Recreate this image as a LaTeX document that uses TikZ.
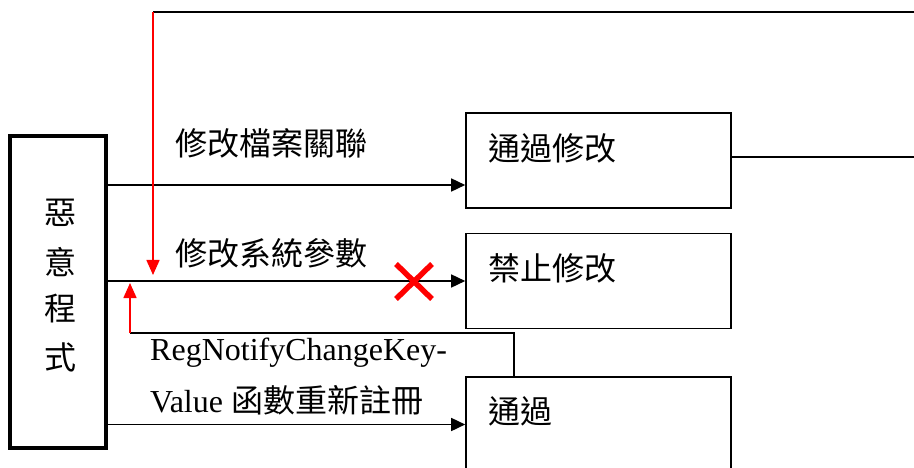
\documentclass[tikz,border=0pt]{standalone}
\usepackage{fontspec}
\setmainfont{Liberation Serif}
\newfontfamily\cjk{Noto Sans CJK TC}
\usetikzlibrary{arrows.meta}
\begin{document}
\begin{tikzpicture}[x=1pt,y=-1pt,
  ln/.style={line width=1.6pt,black},
  arr/.style={ln,-{Triangle[length=14pt,width=13pt]}},
  redarr/.style={line width=1.6pt,red,-{Triangle[length=15pt,width=13pt]}},
  boxn/.style={draw,line width=1.6pt,minimum width=265pt,minimum height=95pt,inner sep=0pt},
  txt/.style={anchor=west,inner sep=0pt,font=\fontsize{32}{38}\selectfont},
  ctxt/.style={txt,font=\fontsize{32}{38}\selectfont\cjk},
  vch/.style={inner sep=0pt,font=\fontsize{32}{38}\selectfont\cjk}
]
\useasboundingbox (0,0) rectangle (914,468);
% left box
\node[draw,line width=4pt,minimum width=96pt,minimum height=312pt,inner sep=0pt] (mal) at (58,292) {};
\node[vch] (c1) at (60,213) {惡};
\node[vch] (c2) at (60,262) {意};
\node[vch] (c3) at (60,309) {程};
\node[vch] (c4) at (60,357) {式};
% right boxes
\node[boxn] (box1) at (598.5,160.5) {};
\node[boxn] (box2) at (598.5,281) {};
\node[boxn] (box3) at (598.5,424.5) {};
\node[ctxt] (t1) at (488,148) {通過修改};
\node[ctxt] (t2) at (488,268) {禁止修改};
\node[ctxt] (t3) at (488,411) {通過};
% labels
\node[ctxt] (l1) at (175,143) {修改檔案關聯};
\node[ctxt] (l2) at (175,253) {修改系統參數};
\node[txt] (l3) at (150,353) {RegNotifyChangeKey-};
\node[txt] (l4) at (150,400) {Value {\cjk 函數重新註冊}};
% coordinates
\coordinate (r1) at (0,185);
\coordinate (tr) at (914,157);
\coordinate (te) at (914,12);
\coordinate (tl) at (153,12);
\coordinate (rd) at (153,275);
\coordinate (rb) at (514,333);
\coordinate (rl) at (130,333);
\coordinate (ru) at (130,283);
% connectors
\draw[arr] (mal.east |- r1) -- (box1.west |- r1);
\draw[arr] (mal.east |- box2.west) -- (box2.west);
\draw[arr] (mal.east |- box3.west) -- (box3.west);
\draw[ln] (box1.east |- tr) -- (tr);
\draw[ln] (te) -- (tl);
\draw[redarr] (tl) -- (rd);
\draw[ln] (box3.north -| rb) -- (rb) -- (rl);
\draw[redarr] (rl) -- (ru);
% red cross
\draw[red,line width=5.5pt] (396,264) -- (432,299) (396,299) -- (432,264);
\end{tikzpicture}
\end{document}
